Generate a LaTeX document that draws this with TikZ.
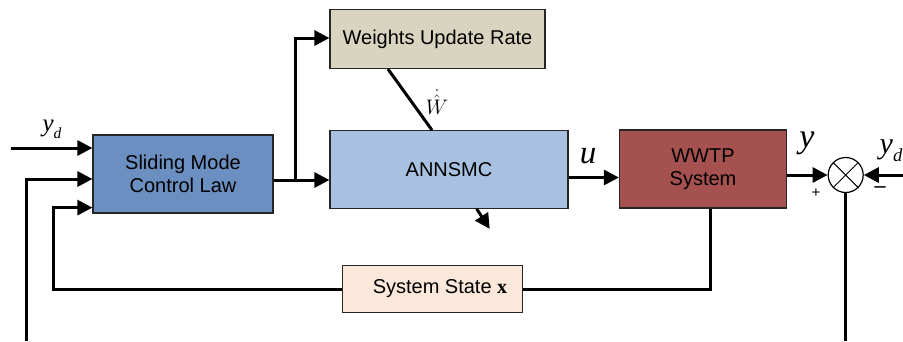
\documentclass[tikz,border=0pt]{standalone}
\usepackage{fix-cm}
\usepackage{graphicx}
\usepackage{fontspec}
\setmainfont{Liberation Sans}
\newfontfamily\symfont{Liberation Serif}
\usetikzlibrary{arrows.meta,calc}

\definecolor{smcblue}{RGB}{108,143,194}
\definecolor{annblue}{RGB}{168,193,224}
\definecolor{wurtan}{RGB}{217,212,192}
\definecolor{plantred}{RGB}{165,81,79}
\definecolor{statepeach}{RGB}{252,232,218}

% italic signal name with a low subscript
\newcommand{\sigvar}[2]{{\symfont\itshape #1\raisebox{-0.28em}{\scalebox{0.62}{#2}}}}

\tikzset{
  block/.style={draw=black!85, line width=1.2pt, align=center, inner sep=0pt,
    font=\fontsize{20}{23}\selectfont},
  sig/.style={line width=3pt, -{Triangle[length=15pt,width=15pt]}},
  wire/.style={line width=3pt},
  sumnode/.style={circle, draw, line width=1.2pt, minimum size=35pt, inner sep=0pt,
    path picture={\draw[line width=1pt]
      (path picture bounding box.north west) -- (path picture bounding box.south east)
      (path picture bounding box.north east) -- (path picture bounding box.south west);}},
  lbl/.style={inner sep=0pt}
}

\begin{document}
\begin{tikzpicture}[x=1pt,y=-1pt]
\useasboundingbox (0,0) rectangle (903,341);

% blocks
\node[block, fill=smcblue, minimum width=180pt, minimum height=78pt] (smc) at (183,174) {Sliding Mode\\Control Law};
\node[block, fill=wurtan, minimum width=215pt, minimum height=59pt] (wur) at (437.5,39) {Weights Update Rate};
\node[block, fill=annblue, minimum width=238pt, minimum height=77.5pt] (ann) at (449,169.5) {ANNSMC};
\node[block, fill=plantred, minimum width=167pt, minimum height=78pt] (wwtp) at (703,169) {WWTP\\System};
\node[block, fill=statepeach, minimum width=180pt, minimum height=46.5pt] (sst) at (432.5,289) {\hspace{15pt}System State {\symfont\bfseries x}};
\node[sumnode] (sum) at (845.7,175) {};

% free ends
\coordinate (ydin) at (11,148);
\coordinate (yin) at (26,341);
\coordinate (ydright) at (903,175);
\coordinate (eout) at (845.7,341);
\coordinate (split) at (295,180);

% signals into the controller
\draw[sig] (ydin) -- (ydin -| smc.west);
\draw[sig] (yin) |- ($(smc.west)+(0,5)$);
\draw[sig] (sst.west) -| ($(smc.south west)+(-39,-6)$) -- ($(smc.south west)+(0,-6)$);

% controller output and weight update branch
\draw[wire] (split -| smc.east) -- (split);
\draw[sig] (split) -- (split -| ann.west);
\draw[sig] (split) |- ($(wur.west)+(0,-1)$);
\draw[wire] ([xshift=-49.5pt]wur.south) -- ([xshift=-17pt]ann.north);
\draw[sig] ([xshift=27.7pt]ann.south) -- ++(13,20);

% plant
\draw[sig] ($(ann.east)+(0,8)$) -- ($(wwtp.west)+(0,8.5)$);
\draw[wire] ([xshift=7.7pt]wwtp.south) |- (sst.east);
\draw[sig] (sum.west -| wwtp.east) -- (sum.west);
\draw[sig] (ydright) -- (sum.east);
\draw[wire] (sum.south) -- (eout);

% labels
\node[lbl, font=\fontsize{25}{25}\selectfont] (ydl) at (52,129) {\sigvar{y}{d}};
\node[lbl, font=\fontsize{21}{21}\selectfont] (wdot) at (437,102) {$\dot{\hat{W}}$};
\node[lbl, font=\fontsize{33}{33}\selectfont] (ul) at (588,161) {\sigvar{u}{}};
\node[lbl, font=\fontsize{34}{34}\selectfont] (yl) at (807,144) {\sigvar{y}{}};
\node[lbl, font=\fontsize{15}{15}\selectfont] (plus) at (816,193) {+};
\node[lbl, font=\fontsize{22}{22}\selectfont] (minus) at (880,190) {\symfont\bfseries –};
\node[lbl, font=\fontsize{30}{30}\selectfont] (ydr) at (891,151) {\sigvar{y}{d}};
\end{tikzpicture}
\end{document}
